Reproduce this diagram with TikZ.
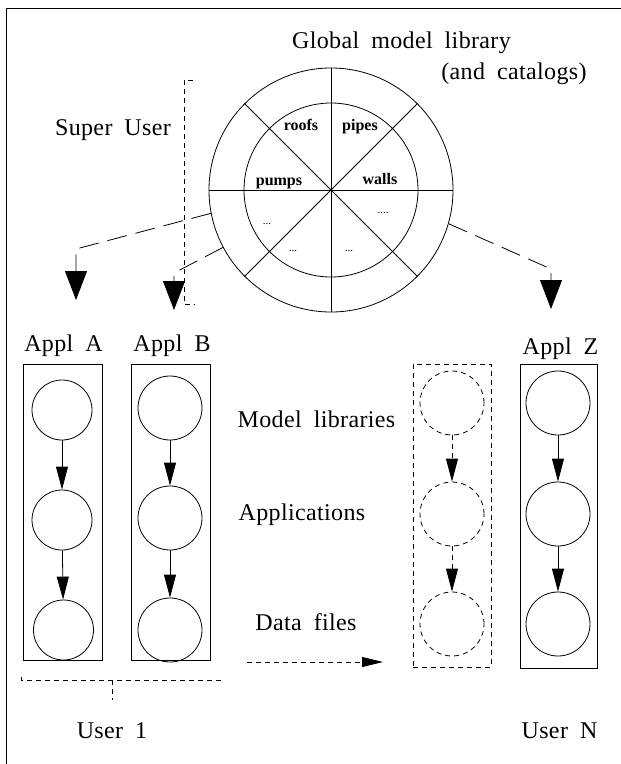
\documentclass[tikz,border=0pt]{standalone}
\usepackage{fontspec}
\newfontfamily\smallserif{Liberation Serif}
\newfontfamily\lblserif{Liberation Serif}[LetterSpace=1.5]
\usetikzlibrary{arrows.meta}
\newcommand\lblfont{\lblserif\fontsize{24}{28}\selectfont\spaceskip=0.5em\relax}
\newcommand\sectorfont{\smallserif\bfseries\fontsize{16}{19}\selectfont}
\newcommand\dotfont{\smallserif\fontsize{11}{13}\selectfont}

\begin{document}
\begin{tikzpicture}[x=1pt, y=-1pt, line width=0.8pt,
  lbl/.style={font=\lblfont, inner sep=0pt, anchor=base},
  sector/.style={font=\sectorfont, inner sep=0pt, anchor=base},
  comp/.style={circle, draw, minimum size=#1, inner sep=0pt},
  comp/.default=62pt,
  ghost/.style={circle, draw, dash pattern=on 5pt off 4pt, minimum size=64pt, inner sep=0pt},
  column/.style={draw, minimum width=79pt, minimum height=296pt, inner sep=0pt},
  shortdash/.style={dash pattern=on 5pt off 4pt},
  longdash/.style={dash pattern=on 20pt off 9pt},
  bigtip/.style={-{Triangle[length=29pt, width=22pt]}},
  flowtip/.style={-{Triangle[length=23pt, width=12pt]}},
  smalltip/.style={-{Triangle[length=21pt, width=10pt]}}
]
\useasboundingbox (0,0) rectangle (621,764);

% page frame
\draw[line width=1pt] (6,764) -- (6,8) -- (621,8);

% global library wheel
\node[circle, draw, minimum size=244pt, inner sep=0pt] (lib) at (331,190) {};
\node[circle, draw, minimum size=174pt, inner sep=0pt] (libin) at (331,190) {};
\foreach \a in {0,45,...,315} \draw (lib.center) -- (lib.\a);
\fill (lib.center) circle[radius=1.3pt];

\node[sector] (roofs) at (301,130) {roofs};
\node[sector] (pipes) at (360,130) {pipes};
\node[sector] (pumps) at (279,185) {pumps};
\node[sector] (walls) at (380,184) {walls};
\node[sector, font=\dotfont] (d1) at (383,213) {....};
\node[sector, font=\dotfont] (d2) at (267,224) {...};
\node[sector, font=\dotfont] (d3) at (293,251) {...};
\node[sector, font=\dotfont] (d4) at (349,251) {...};

\node[lbl] (title1) at (401.5,48) {Global model library};
\node[lbl] (title2) at (514,79) {(and catalogs)};
\node[lbl] (super) at (113,135) {Super User};

% super user bracket
\draw[shortdash] (193,80) -- (184,80) -- (184,304) -- (195,304);

% distribution arrows from the wheel
\coordinate (tipA) at (76,300);
\coordinate (tipB) at (174,310);
\coordinate (tipZ) at (551,309);
\draw[longdash, bigtip] (lib.191) -- (76,249) -- (tipA);
\draw[longdash, bigtip] (lib.208) -- (174,273) -- (tipB);
\draw[longdash, bigtip] (lib.344) -- (551,269) -- (tipZ);

% application columns
\node[lbl] (applA) at (63.5,351) {Appl A};
\node[lbl] (applB) at (172,351) {Appl B};
\node[lbl] (applZ) at (560.5,354) {Appl Z};

\node[column] (boxA) at (62.5,512.5) {};
\node[column] (boxB) at (170.5,512.5) {};
\node[column, shortdash, minimum height=303pt, minimum width=78pt] (boxD) at (452,515.5) {};
\node[column, minimum height=304pt, minimum width=77pt] (boxZ) at (558.5,516) {};

\node[comp=60pt] (a1) at (62,410) {};
\node[comp=60pt] (a2) at (62,520) {};
\node[comp=60pt] (a3) at (63.5,630) {};
\node[comp=64pt] (b1) at (170,408) {};
\node[comp=64pt] (b2) at (170,518) {};
\node[comp=64pt] (b3) at (170,630) {};
\node[ghost] (g1) at (452,403) {};
\node[ghost] (g2) at (452,514) {};
\node[ghost] (g3) at (452,624) {};
\node[comp=64pt] (z1) at (558,403) {};
\node[comp=64pt] (z2) at (558,514) {};
\node[comp=64pt] (z3) at (558,624) {};

\draw[flowtip] (a1) -- (a2);
\draw[flowtip] (a2) -- (a3);
\draw[flowtip] (b1) -- (b2);
\draw[flowtip] (b2) -- (b3);
\draw[flowtip, shortdash] (g1) -- (g2);
\draw[flowtip, shortdash] (g2) -- (g3);
\draw[flowtip] (z1) -- (z2);
\draw[flowtip] (z2) -- (z3);

% level captions
\node[lbl] (mlib) at (316.5,427) {Model libraries};
\node[lbl] (apps) at (302,520) {Applications};
\node[lbl] (data) at (306,630) {Data files};

% data file transfer
\coordinate (dfs) at (247,662);
\coordinate (dfe) at (383,662);
\draw[shortdash, smalltip] (dfs) -- (dfe);

% user 1 bracket
\draw[shortdash] (21,677) -- (21,680) -- (221,680) -- (221,677);
\draw[shortdash] (112,680) -- (112,700);

\node[lbl] (user1) at (112,738) {User 1};
\node[lbl] (userN) at (559.5,738) {User N};
\end{tikzpicture}
\end{document}
